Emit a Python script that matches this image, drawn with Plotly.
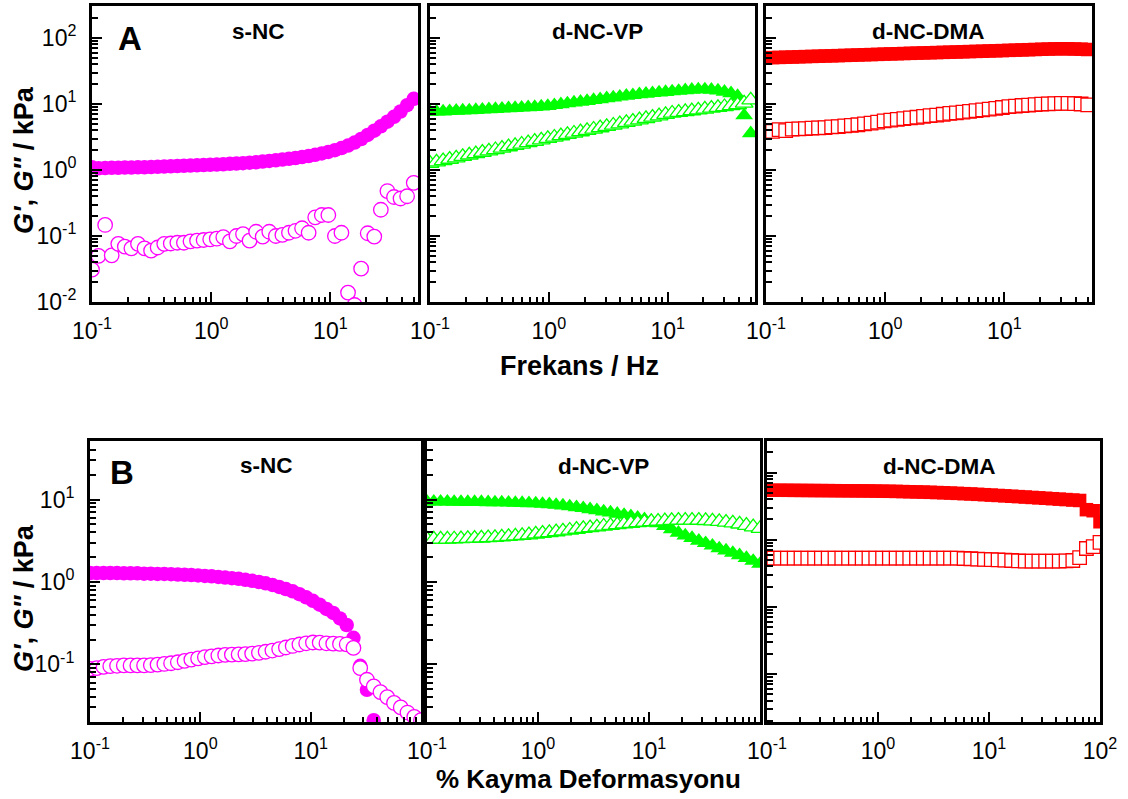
import plotly.graph_objects as go

# ---- measurement grids ----
freq_hz = [0.1, 0.1135, 0.1289, 0.1463, 0.1661, 0.1885, 0.2140, 0.2430, 0.2758, 0.3131,
           0.3554, 0.4035, 0.4580, 0.5200, 0.5903, 0.6701, 0.7607, 0.8636, 0.9803, 1.113,
           1.263, 1.434, 1.628, 1.848, 2.098, 2.381, 2.703, 3.069, 3.484, 3.955,
           4.490, 5.097, 5.786, 6.568, 7.456, 8.464, 9.609, 10.91, 12.38, 14.06,
           15.96, 18.11, 20.56, 23.34, 26.50, 30.08, 34.15, 38.77, 44.01, 50.0]

strain_pct = [0.1, 0.1151, 0.1326, 0.1526, 0.1757, 0.2024, 0.2330, 0.2683, 0.3089, 0.3556,
              0.4095, 0.4715, 0.5429, 0.6251, 0.7197, 0.8286, 0.9541, 1.099, 1.265, 1.456,
              1.677, 1.931, 2.223, 2.559, 2.947, 3.393, 3.907, 4.498, 5.179, 5.963,
              6.866, 7.906, 9.103, 10.48, 12.07, 13.89, 16.00, 18.42, 21.21, 24.42,
              28.12, 32.37, 37.28, 42.92, 49.42, 56.90, 65.51, 75.43, 86.85, 100.0]

# ---- frequency sweep (kPa) ----
snc_freq_gp = [1.10, 1.06, 1.07, 1.08, 1.08, 1.09, 1.09, 1.10, 1.10, 1.11,
               1.12, 1.13, 1.14, 1.15, 1.16, 1.17, 1.18, 1.19, 1.20, 1.21,
               1.22, 1.24, 1.25, 1.27, 1.29, 1.31, 1.34, 1.37, 1.40, 1.44,
               1.48, 1.52, 1.57, 1.63, 1.70, 1.78, 1.88, 2.00, 2.15, 2.35,
               2.60, 2.95, 3.40, 3.95, 4.60, 5.40, 6.40, 7.70, 9.60, 12.0]
snc_freq_gpp = [0.031, 0.050, 0.147, 0.051, 0.076, 0.069, 0.065, 0.076, 0.065, 0.060,
                0.067, 0.076, 0.077, 0.079, 0.079, 0.083, 0.085, 0.087, 0.089, 0.091,
                0.096, 0.083, 0.100, 0.107, 0.085, 0.116, 0.098, 0.116, 0.100, 0.104,
                0.112, 0.120, 0.131, 0.112, 0.192, 0.208, 0.208, 0.100, 0.112, 0.0139,
                0.009, 0.032, 0.110, 0.098, 0.25, 0.48, 0.39, 0.37, 0.40, 0.64]

vp_freq_gp = [7.6, 7.65, 7.7, 7.8, 7.9, 7.95, 8.0, 8.1, 8.2, 8.3,
              8.4, 8.5, 8.6, 8.7, 8.8, 8.9, 9.0, 9.15, 9.3, 9.6,
              9.9, 10.2, 10.5, 10.8, 11.1, 11.5, 11.8, 12.2, 12.5, 12.9,
              13.3, 13.6, 14.0, 14.3, 14.6, 14.9, 15.2, 15.5, 15.8, 16.1,
              16.4, 16.6, 16.6, 16.4, 16.0, 15.3, 14.5, 13.2, 6.7, 3.6]
vp_freq_gpp = [1.26, 1.32, 1.38, 1.45, 1.52, 1.60, 1.68, 1.76, 1.85, 1.94,
               2.03, 2.13, 2.24, 2.35, 2.46, 2.58, 2.71, 2.85, 3.00, 3.14,
               3.29, 3.45, 3.61, 3.78, 3.96, 4.15, 4.35, 4.55, 4.77, 4.99,
               5.23, 5.48, 5.74, 6.01, 6.30, 6.60, 6.92, 7.25, 7.45, 7.65,
               7.87, 8.10, 8.35, 8.60, 8.85, 9.10, 9.40, 9.70, 10.3, 11.5]

dma_freq_gp = [50.1, 50.5, 50.8, 51.2, 51.5, 51.9, 52.3, 52.6, 53.0, 53.4,
               53.7, 54.1, 54.5, 54.9, 55.3, 55.7, 56.1, 56.5, 57.0, 57.4,
               57.8, 58.2, 58.6, 59.0, 59.4, 59.8, 60.2, 60.6, 61.0, 61.4,
               61.8, 62.3, 62.7, 63.1, 63.6, 64.0, 64.5, 65.0, 65.5, 66.0,
               66.5, 67.0, 67.5, 68.0, 68.5, 68.7, 68.6, 68.2, 67.7, 67.0]
dma_freq_gpp = [3.9, 3.85, 4.1, 3.95, 4.15, 4.2, 4.25, 4.3, 4.35, 4.4,
                4.5, 4.55, 4.65, 4.75, 4.85, 5.0, 5.15, 5.3, 5.55, 5.7,
                5.85, 6.0, 6.15, 6.3, 6.5, 6.65, 6.8, 7.0, 7.2, 7.35,
                7.55, 7.75, 7.95, 8.15, 8.35, 8.6, 8.85, 9.1, 9.3, 9.5,
                9.65, 9.8, 9.95, 10.05, 10.15, 10.2, 10.2, 10.15, 10.0, 9.7]

# ---- strain sweep (kPa) ----
snc_strain_gp = [1.28, 1.28, 1.28, 1.28, 1.28, 1.27, 1.27, 1.27, 1.26, 1.26,
                 1.25, 1.25, 1.24, 1.23, 1.22, 1.21, 1.20, 1.18, 1.17, 1.15,
                 1.13, 1.11, 1.09, 1.06, 1.03, 1.00, 0.96, 0.92, 0.87, 0.82,
                 0.77, 0.71, 0.65, 0.59, 0.53, 0.47, 0.42, 0.36, 0.30, 0.21,
                 0.096, 0.049, 0.021, 0.012, 0.009, 0.007, 0.006, 0.005, 0.004, 0.004]
snc_strain_gpp = [0.088, 0.090, 0.093, 0.095, 0.096, 0.097, 0.097, 0.097, 0.097, 0.098,
                  0.099, 0.101, 0.103, 0.106, 0.110, 0.114, 0.118, 0.122, 0.125, 0.128,
                  0.130, 0.131, 0.132, 0.133, 0.135, 0.138, 0.142, 0.147, 0.153, 0.160,
                  0.167, 0.174, 0.180, 0.184, 0.183, 0.180, 0.178, 0.177, 0.175, 0.158,
                  0.090, 0.065, 0.054, 0.046, 0.040, 0.034, 0.030, 0.026, 0.023, 0.021]

vp_strain_gp = [9.4, 9.4, 9.4, 9.4, 9.35, 9.35, 9.3, 9.3, 9.3, 9.25,
                9.2, 9.2, 9.15, 9.1, 9.05, 9.0, 8.95, 8.85, 8.75, 8.6,
                8.45, 8.25, 8.05, 7.85, 7.6, 7.4, 7.15, 6.95, 6.7, 6.5,
                6.25, 6.0, 5.75, 5.5, 5.15, 4.75, 4.35, 3.95, 3.65, 3.4,
                3.15, 2.95, 2.75, 2.55, 2.4, 2.25, 2.1, 1.95, 1.8, 1.65]
vp_strain_gpp = [3.3, 3.3, 3.3, 3.3, 3.32, 3.34, 3.36, 3.38, 3.4, 3.43,
                 3.46, 3.5, 3.55, 3.6, 3.66, 3.72, 3.8, 3.88, 3.96, 4.05,
                 4.14, 4.24, 4.34, 4.44, 4.54, 4.64, 4.74, 4.84, 4.94, 5.04,
                 5.13, 5.22, 5.3, 5.38, 5.45, 5.5, 5.55, 5.58, 5.6, 5.6,
                 5.58, 5.54, 5.48, 5.4, 5.3, 5.18, 5.03, 4.85, 4.65, 4.45]

dma_strain_gp = [54.5, 54.5, 54.5, 54.4, 54.3, 54.2, 54.1, 54.0, 53.9, 53.8,
                 53.7, 53.6, 53.5, 53.4, 53.3, 53.2, 53.0, 52.8, 52.6, 52.4,
                 52.1, 51.8, 51.5, 51.2, 50.8, 50.4, 50.0, 49.5, 49.0, 48.5,
                 48.0, 47.4, 46.8, 46.2, 45.6, 45.0, 44.4, 43.8, 43.2, 42.6,
                 42.0, 41.4, 40.8, 40.2, 39.6, 39.0, 38.4, 28.0, 27.0, 18.5]
dma_strain_gpp = [5.3, 5.3, 5.3, 5.3, 5.3, 5.3, 5.3, 5.3, 5.3, 5.3,
                  5.3, 5.3, 5.3, 5.3, 5.3, 5.3, 5.3, 5.3, 5.3, 5.3,
                  5.3, 5.3, 5.3, 5.3, 5.3, 5.3, 5.3, 5.3, 5.3, 5.25,
                  5.2, 5.15, 5.1, 5.05, 5.0, 4.95, 4.9, 4.85, 4.8, 4.8,
                  4.8, 4.8, 4.8, 4.8, 4.85, 4.9, 5.4, 7.4, 7.9, 9.1]

panel_names = ["s-NC", "d-NC-VP", "d-NC-DMA"]
MAGENTA, GREEN, RED = "#FF00FF", "#00FF00", "#FF0000"

W, H = 1128, 799
FONT = "Liberation Sans, Arial, sans-serif"


def px_x(a, b):
    return [a / W, b / W]


def px_y(top, bottom):
    return [1 - bottom / H, 1 - top / H]


def sup(e):
    return "10<sup>%d</sup>" % e


def minor_vals(lo, hi):
    out = []
    for e in range(lo, hi + 1):
        for m in range(2, 10):
            out.append(m * 10.0 ** e)
    return out


fig = go.Figure()

# panel geometry (pixels) : x-extent, y-extent
top_x = [(92, 418), (430, 755), (766, 1092)]
bot_x = [(90, 421), (427, 760), (767, 1100)]
top_y = (6, 302)
bot_y = (441, 722)

series = [
    # (axis index, x, G', G'', colour, symbol)
    (1, freq_hz, snc_freq_gp, snc_freq_gpp, MAGENTA, "circle"),
    (2, freq_hz, vp_freq_gp, vp_freq_gpp, GREEN, "triangle-up"),
    (3, freq_hz, dma_freq_gp, dma_freq_gpp, RED, "square"),
    (4, strain_pct, snc_strain_gp, snc_strain_gpp, MAGENTA, "circle"),
    (5, strain_pct, vp_strain_gp, vp_strain_gpp, GREEN, "triangle-up"),
    (6, strain_pct, dma_strain_gp, dma_strain_gpp, RED, "square"),
]

msize = {"circle": 14.5, "triangle-up": 15.5, "square": 13.5}

for idx, xs, gp, gpp, col, sym in series:
    xa = "x" if idx == 1 else "x%d" % idx
    ya = "y" if idx == 1 else "y%d" % idx
    fig.add_trace(go.Scatter(
        x=xs, y=gp, xaxis=xa, yaxis=ya, mode="markers", showlegend=False,
        marker=dict(symbol=sym, size=msize[sym], color=col, line=dict(width=0))))
    fig.add_trace(go.Scatter(
        x=xs, y=gpp, xaxis=xa, yaxis=ya, mode="markers", showlegend=False,
        marker=dict(symbol=sym, size=msize[sym], color="white",
                    line=dict(width=1.3, color=col))))

tickfont = dict(family=FONT, size=23, color="black")


def axis_common():
    return dict(type="log", showline=True, linecolor="black", linewidth=3,
                mirror=True, ticks="inside", ticklen=10, tickwidth=2,
                tickcolor="black", showgrid=False, zeroline=False,
                automargin=False, tickfont=tickfont, tickmode="array")


layout = {}
for i in range(6):
    n = i + 1
    key_x = "xaxis" if n == 1 else "xaxis%d" % n
    key_y = "yaxis" if n == 1 else "yaxis%d" % n
    top = i < 3
    col = i % 3
    xa = axis_common()
    ya = axis_common()
    xa["ticklabelstandoff"] = 6
    ya["ticklabelstandoff"] = 8
    if top:
        xa.update(domain=px_x(*top_x[col]), range=[-1, 1.735],
                  tickvals=[0.1, 1, 10], ticktext=[sup(-1), sup(0), sup(1)],
                  minor=dict(tickmode="array", tickvals=minor_vals(-1, 1),
                             ticks="inside", ticklen=5, tickwidth=1.5, tickcolor="black"))
        ya.update(domain=px_y(*top_y), range=[-2, 2.485],
                  tickvals=[0.01, 0.1, 1, 10, 100],
                  ticktext=[sup(-2), sup(-1), sup(0), sup(1), sup(2)],
                  showticklabels=(col == 0),
                  minor=dict(tickmode="array", tickvals=minor_vals(-2, 2),
                             ticks="inside", ticklen=6, tickwidth=1.5, tickcolor="black"))
    else:
        if col == 2:
            xt = dict(tickvals=[0.1, 1, 10, 100], ticktext=[sup(-1), sup(0), sup(1), sup(2)])
        else:
            xt = dict(tickvals=[0.1, 1, 10], ticktext=[sup(-1), sup(0), sup(1)])
        xa.update(domain=px_x(*bot_x[col]), range=[-1, 2],
                  minor=dict(tickmode="array", tickvals=minor_vals(-1, 1),
                             ticks="inside", ticklen=5, tickwidth=1.5, tickcolor="black"),
                  **xt)
        if col == 2:
            ya.update(domain=px_y(*bot_y), range=[-1.715, 2.47],
                      tickvals=[0.1, 1, 10, 100], showticklabels=False,
                      minor=dict(tickmode="array", tickvals=minor_vals(-2, 2),
                                 ticks="inside", ticklen=6, tickwidth=1.5, tickcolor="black"))
        else:
            ya.update(domain=px_y(*bot_y), range=[-1.7, 1.71],
                      tickvals=[0.1, 1, 10], ticktext=[sup(-1), sup(0), sup(1)],
                      showticklabels=(col == 0),
                      minor=dict(tickmode="array", tickvals=minor_vals(-2, 1),
                                 ticks="inside", ticklen=6, tickwidth=1.5, tickcolor="black"))
    xa["anchor"] = "y" if n == 1 else "y%d" % n
    ya["anchor"] = "x" if n == 1 else "x%d" % n
    layout[key_x] = xa
    layout[key_y] = ya

annotations = []


def ann(text, x, y, size, angle=0):
    annotations.append(dict(text=text, x=x / W, y=1 - y / H, xref="paper", yref="paper",
                            showarrow=False, textangle=angle, xanchor="center",
                            yanchor="middle",
                            font=dict(family=FONT, size=size, color="black")))


# panel names: (text, centre x, centre y)
panel_labels = [
    ("s-NC", 258, 31), ("d-NC-VP", 597, 31), ("d-NC-DMA", 928, 31),
    ("s-NC", 266, 465), ("d-NC-VP", 603, 466), ("d-NC-DMA", 939, 466),
]
for text, cx, cy in panel_labels:
    ann("<b>%s</b>" % text, cx, cy, 22.5)

ann("<b>A</b>", 130, 38, 33)
ann("<b>B</b>", 122, 472, 33)

ylab = "<b><i>G'</i>, <i>G''</i> / kPa</b>"
ann(ylab, 24, 160, 27, -90)
ann(ylab, 24, 598, 27, -90)
ann("<b>Frekans / Hz</b>", 579, 366, 27)
ann("<b>% Kayma Deformasyonu</b>", 588, 779, 26)

fig.update_layout(width=W, height=H, margin=dict(l=0, r=0, t=0, b=0),
                  paper_bgcolor="white", plot_bgcolor="rgba(0,0,0,0)",
                  annotations=annotations, **layout)

fig.write_html("out.html")
